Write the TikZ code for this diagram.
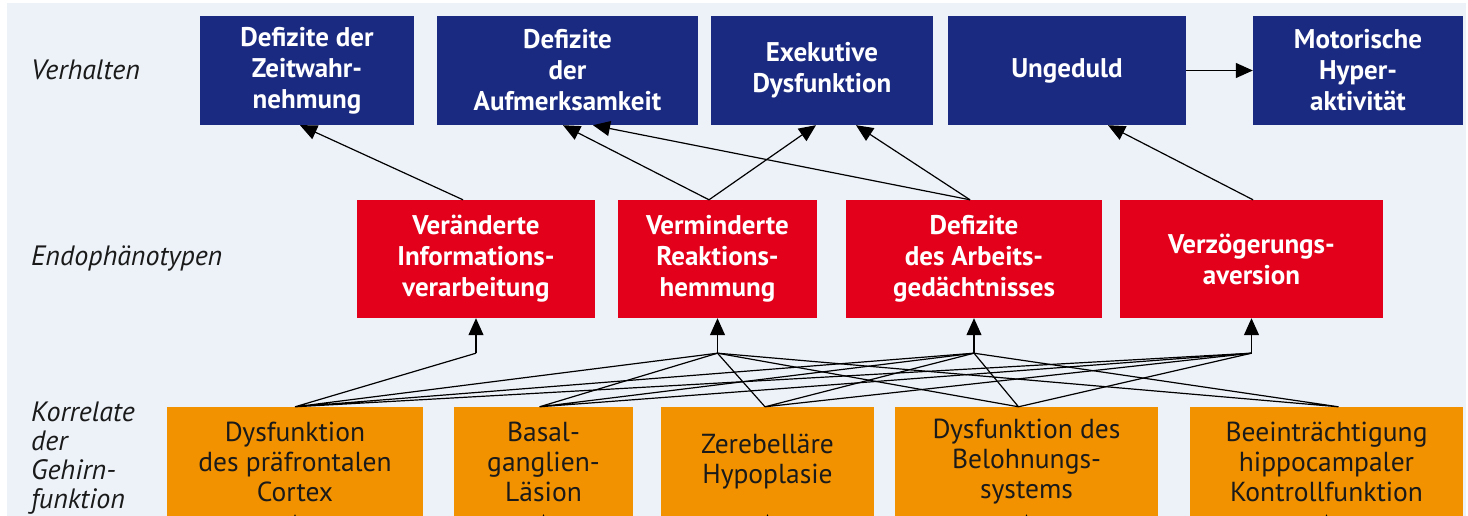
\documentclass[tikz,border=0pt]{standalone}
\usepackage{fontspec}
\setmainfont{PT Sans}
\usetikzlibrary{arrows.meta,calc}
\definecolor{bgcol}{HTML}{EDF2F9}
\definecolor{navy}{HTML}{1B2A81}
\definecolor{myred}{HTML}{E2001A}
\definecolor{myorange}{HTML}{F39200}
\definecolor{ink}{HTML}{1A1A1A}
\begin{document}
\begin{tikzpicture}[x=1pt,y=-1pt,
  boxbase/.style={rectangle, inner sep=0pt, align=center},
  verhbox/.style={boxbase, fill=navy, text=white, font=\bfseries\fontsize{27}{31}\selectfont, minimum height=109pt},
  endobox/.style={boxbase, fill=myred, text=white, font=\bfseries\fontsize{27}{31}\selectfont, minimum height=118pt},
  korrbox/.style={boxbase, fill=myorange, text=ink, font=\fontsize{27.5}{30}\selectfont, minimum height=110pt},
  lvl/.style={anchor=west, align=left, inner sep=0pt, text=ink, font=\itshape\fontsize{28}{29}\selectfont},
  arr/.style={draw=black, line width=1.2pt, -{Triangle[length=17pt,width=15pt]}},
  ln/.style={draw=black, line width=1.2pt}
]
\useasboundingbox (0,0) rectangle (1468,516);
\fill[white] (0,0) rectangle (1468,516);
\fill[bgcol] (7,3) rectangle (1466,516);

% level labels
\node[lvl] (L1) at (31,70) {Verhalten};
\node[lvl] (L2) at (31,259) {Endophänotypen};
\node[lvl] (L3) at (31,458) {Korrelate\\der\\Gehirn-\\funktion};

% behaviour
\node[verhbox, minimum width=214pt] (B1) at (307,70.5) {Defizite der\\Zeitwahr-\\nehmung};
\node[verhbox, minimum width=261pt] (B2) at (567.5,70.5) {Defizite\\der\\Aufmerksamkeit};
\node[verhbox, minimum width=222pt] (B3) at (822,70.5) {Exekutive\\Dysfunktion};
\node[verhbox, minimum width=238pt] (B4) at (1067,70.5) {Ungeduld};
\node[verhbox, minimum width=210pt] (B5) at (1358,70.5) {Motorische\\Hyper-\\aktivität};

% endophenotypes
\node[endobox, minimum width=238pt] (R1) at (476,259) {Veränderte\\Informations-\\verarbeitung};
\node[endobox, minimum width=199pt] (R2) at (717.5,259) {Verminderte\\Reaktions-\\hemmung};
\node[endobox, minimum width=256pt] (R3) at (974,259) {Defizite\\des Arbeits-\\gedächtnisses};
\node[endobox, minimum width=263pt] (R4) at (1251.5,259) {Verzögerungs-\\aversion};

% brain correlates
\node[korrbox, minimum width=256pt] (O1) at (295,462) {Dysfunktion\\des präfrontalen\\Cortex};
\node[korrbox, minimum width=179pt] (O2) at (543.5,462) {Basal-\\ganglien-\\Läsion};
\node[korrbox, minimum width=213pt] (O3) at (767.5,462) {Zerebelläre\\Hypoplasie};
\node[korrbox, minimum width=263pt] (O4) at (1026.5,462) {Dysfunktion des\\Belohnungs-\\systems};
\node[korrbox, minimum width=273pt] (O5) at (1326.5,462) {Beeinträchtigung\\hippocampaler\\Kontrollfunktion};

% endophenotypes -> behaviour
\draw[arr] ([xshift=-13pt]R1.north) -- ([xshift=-7pt]B1.south);
\draw[arr] ([xshift=-8.5pt]R2.north) -- ([xshift=-4.5pt]B2.south);
\draw[arr] ([xshift=-8.5pt]R2.north) -- ([xshift=-6pt]B3.south);
\draw[arr] ([xshift=-4pt]R3.north) -- ([xshift=25.5pt]B2.south);
\draw[arr] ([xshift=-4pt]R3.north) -- ([xshift=34pt]B3.south);
\draw[arr] ([xshift=1.5pt]R4.north) -- ([xshift=41pt]B4.south);
\draw[arr] (B4.east) -- (B5.west);

% junctions below endophenotypes
\coordinate (J1) at ([yshift=-35pt]R1.south);
\coordinate (J2) at ([yshift=-35pt]R2.south);
\coordinate (J3) at ([yshift=-35pt]R3.south);
\coordinate (J4) at ([yshift=-35pt]R4.south);
\foreach \j in {1,2,3,4} {\draw[arr] (J\j) -- (R\j.south);}

\coordinate (P1) at (O1.north);
\coordinate (P2) at ([xshift=-4pt]O2.north);
\coordinate (P3) at ([xshift=-2.5pt]O3.north);
\coordinate (P4) at ([xshift=-8pt]O4.north);
\coordinate (P5) at ([xshift=12pt]O5.north);

\draw[ln] (P1) -- (J1) (P1) -- (J2) (P1) -- (J3) (P1) -- (J4);
\draw[ln] (P2) -- (J2) (P2) -- (J3) (P2) -- (J4);
\draw[ln] (P3) -- (J2) (P3) -- (J3) (P3) -- (J4);
\draw[ln] (P4) -- (J2) (P4) -- (J3) (P4) -- (J4);
\draw[ln] (P5) -- (J2) (P5) -- (J3);

% arrows entering the orange boxes from below (cut off by the page edge)
\coordinate (Q1) at ([yshift=-30pt]O1.south);
\coordinate (Q2) at ([yshift=-30pt]O2.south);
\coordinate (Q3) at ([yshift=-30pt]O3.south);
\coordinate (Q4) at ([yshift=-30pt]O4.south);
\coordinate (Q5) at ([yshift=-30pt]O5.south);
\foreach \q in {1,...,5} {\draw[arr] (Q\q) -- ([yshift=3pt]O\q.south);}
\end{tikzpicture}
\end{document}
